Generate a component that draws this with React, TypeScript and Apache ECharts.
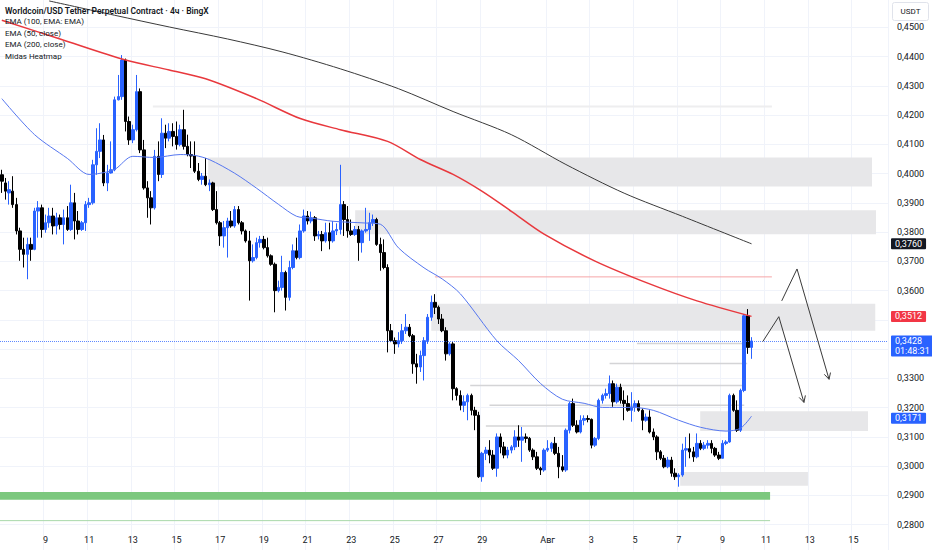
import { useEffect, useRef } from 'react';
import * as echarts from 'echarts';

// ---- 4h candles (Jul 7 00:00 -> Aug 10 08:00) ----
const OPEN = [
  0.3996, 0.3968, 0.3934, 0.3940, 0.3894, 0.3804, 0.3741, 0.3724, 0.3758, 0.3741,
  0.3872, 0.3883, 0.3809, 0.3832, 0.3855, 0.3821, 0.3849, 0.3826, 0.3849, 0.3809,
  0.3900, 0.3838, 0.3809, 0.3832, 0.3894, 0.3900, 0.4030, 0.4076, 0.4115, 0.3968,
  0.4002, 0.4013, 0.4252, 0.4263, 0.4388, 0.4178, 0.4115, 0.4150, 0.4280, 0.4081,
  0.3951, 0.3917, 0.3883, 0.4059, 0.3997, 0.4138, 0.4121, 0.4144, 0.4127, 0.4099,
  0.4150, 0.4093, 0.4065, 0.4060, 0.4008, 0.3980, 0.3991, 0.3962, 0.3968, 0.3877,
  0.3832, 0.3787, 0.3815, 0.3838, 0.3821, 0.3877, 0.3832, 0.3804, 0.3770, 0.3702,
  0.3713, 0.3764, 0.3775, 0.3747, 0.3719, 0.3690, 0.3600, 0.3611, 0.3662, 0.3577,
  0.3679, 0.3736, 0.3713, 0.3804, 0.3855, 0.3838, 0.3849, 0.3787, 0.3792, 0.3770,
  0.3798, 0.3770, 0.3804, 0.3809, 0.3894, 0.3843, 0.3804, 0.3792, 0.3809, 0.3764,
  0.3804, 0.3809, 0.3832, 0.3843, 0.3758, 0.3730, 0.3679, 0.3463, 0.3429, 0.3418,
  0.3429, 0.3463, 0.3475, 0.3446, 0.3350, 0.3339, 0.3378, 0.3429, 0.3509, 0.3560,
  0.3543, 0.3503, 0.3463, 0.3384, 0.3418, 0.3265, 0.3242, 0.3208, 0.3220, 0.3242,
  0.3191, 0.3174, 0.2964, 0.3044, 0.3055, 0.3038, 0.2993, 0.3100, 0.3066, 0.3038,
  0.3055, 0.3066, 0.3100, 0.3089, 0.3100, 0.3095, 0.3055, 0.3032, 0.2993, 0.2987,
  0.3055, 0.3061, 0.3078, 0.3044, 0.2998, 0.2987, 0.3123, 0.3214, 0.3140, 0.3117,
  0.3157, 0.3163, 0.3160, 0.3072, 0.3095, 0.3225, 0.3242, 0.3248, 0.3282, 0.3220,
  0.3270, 0.3225, 0.3214, 0.3191, 0.3203, 0.3214, 0.3191, 0.3157, 0.3168, 0.3117,
  0.3100, 0.3049, 0.3027, 0.2998, 0.3021, 0.2976, 0.2964, 0.2970, 0.3055, 0.3060,
  0.3049, 0.3032, 0.3078, 0.3061, 0.3072, 0.3078, 0.3061, 0.3038, 0.3027, 0.3078,
  0.3083, 0.3242, 0.3191, 0.3123, 0.3259, 0.3514, 0.3406,
];
const CLOSE = [
  0.3974, 0.3940, 0.3945, 0.3894, 0.3804, 0.3741, 0.3724, 0.3758, 0.3741, 0.3872,
  0.3883, 0.3809, 0.3832, 0.3855, 0.3821, 0.3849, 0.3826, 0.3849, 0.3809, 0.3900,
  0.3838, 0.3809, 0.3832, 0.3894, 0.3900, 0.4030, 0.4076, 0.4115, 0.3968, 0.4002,
  0.4013, 0.4252, 0.4263, 0.4388, 0.4178, 0.4115, 0.4150, 0.4280, 0.4081, 0.3951,
  0.3917, 0.3883, 0.4059, 0.3997, 0.4138, 0.4121, 0.4144, 0.4127, 0.4099, 0.4150,
  0.4093, 0.4065, 0.4060, 0.4008, 0.3980, 0.3991, 0.3962, 0.3968, 0.3877, 0.3832,
  0.3787, 0.3815, 0.3838, 0.3821, 0.3877, 0.3832, 0.3804, 0.3770, 0.3702, 0.3713,
  0.3764, 0.3775, 0.3747, 0.3719, 0.3690, 0.3600, 0.3611, 0.3662, 0.3577, 0.3679,
  0.3736, 0.3713, 0.3804, 0.3855, 0.3838, 0.3849, 0.3787, 0.3792, 0.3770, 0.3798,
  0.3770, 0.3804, 0.3809, 0.3894, 0.3843, 0.3804, 0.3792, 0.3809, 0.3764, 0.3804,
  0.3809, 0.3832, 0.3843, 0.3758, 0.3730, 0.3679, 0.3463, 0.3429, 0.3418, 0.3429,
  0.3463, 0.3475, 0.3446, 0.3350, 0.3339, 0.3378, 0.3429, 0.3509, 0.3560, 0.3543,
  0.3503, 0.3463, 0.3384, 0.3418, 0.3265, 0.3242, 0.3208, 0.3220, 0.3242, 0.3191,
  0.3174, 0.2964, 0.3044, 0.3055, 0.3038, 0.2993, 0.3100, 0.3066, 0.3038, 0.3055,
  0.3066, 0.3100, 0.3089, 0.3100, 0.3095, 0.3055, 0.3032, 0.2993, 0.2987, 0.3055,
  0.3061, 0.3078, 0.3044, 0.2998, 0.2987, 0.3123, 0.3214, 0.3140, 0.3117, 0.3157,
  0.3163, 0.3160, 0.3072, 0.3095, 0.3225, 0.3242, 0.3248, 0.3282, 0.3220, 0.3270,
  0.3225, 0.3214, 0.3191, 0.3203, 0.3214, 0.3191, 0.3157, 0.3168, 0.3117, 0.3100,
  0.3049, 0.3027, 0.2998, 0.3021, 0.2976, 0.2964, 0.2970, 0.3055, 0.3060, 0.3049,
  0.3032, 0.3078, 0.3061, 0.3072, 0.3078, 0.3061, 0.3038, 0.3027, 0.3078, 0.3083,
  0.3242, 0.3191, 0.3123, 0.3259, 0.3514, 0.3406, 0.3428,
];
const LOW = [
  0.3934, 0.3911, 0.3894, 0.3883, 0.3792, 0.3702, 0.3679, 0.3639, 0.3702, 0.3738,
  0.3781, 0.3781, 0.3798, 0.3815, 0.3792, 0.3792, 0.3809, 0.3758, 0.3804, 0.3804,
  0.3775, 0.3792, 0.3804, 0.3804, 0.3883, 0.3894, 0.3996, 0.4053, 0.3957, 0.3940,
  0.4000, 0.4008, 0.4250, 0.4252, 0.4144, 0.4098, 0.4104, 0.4144, 0.4070, 0.3945,
  0.3849, 0.3826, 0.3877, 0.3974, 0.3985, 0.4087, 0.4110, 0.4093, 0.4082, 0.4093,
  0.4082, 0.4059, 0.4019, 0.4002, 0.3974, 0.3962, 0.3957, 0.3940, 0.3872, 0.3826,
  0.3753, 0.3747, 0.3713, 0.3815, 0.3815, 0.3826, 0.3792, 0.3764, 0.3566, 0.3696,
  0.3707, 0.3747, 0.3741, 0.3713, 0.3685, 0.3526, 0.3594, 0.3600, 0.3532, 0.3566,
  0.3673, 0.3707, 0.3707, 0.3798, 0.3826, 0.3830, 0.3770, 0.3775, 0.3735, 0.3764,
  0.3741, 0.3764, 0.3790, 0.3792, 0.3787, 0.3781, 0.3787, 0.3787, 0.3702, 0.3730,
  0.3798, 0.3770, 0.3821, 0.3753, 0.3668, 0.3673, 0.3389, 0.3424, 0.3384, 0.3406,
  0.3418, 0.3452, 0.3441, 0.3316, 0.3282, 0.3322, 0.3293, 0.3418, 0.3497, 0.3520,
  0.3486, 0.3458, 0.3361, 0.3378, 0.3225, 0.3225, 0.3191, 0.3185, 0.3157, 0.3174,
  0.3123, 0.2960, 0.2947, 0.3021, 0.3010, 0.2987, 0.2964, 0.3044, 0.3027, 0.3027,
  0.3044, 0.3055, 0.3066, 0.3015, 0.3080, 0.3049, 0.3021, 0.2987, 0.2970, 0.2981,
  0.3049, 0.3049, 0.3038, 0.2959, 0.2981, 0.2981, 0.3112, 0.3134, 0.3112, 0.3112,
  0.3140, 0.3150, 0.3061, 0.3066, 0.3089, 0.3214, 0.3231, 0.3231, 0.3203, 0.3214,
  0.3214, 0.3157, 0.3186, 0.3152, 0.3186, 0.3186, 0.3123, 0.3152, 0.3112, 0.3089,
  0.3021, 0.3021, 0.2993, 0.2993, 0.2964, 0.2953, 0.2930, 0.2964, 0.2998, 0.3027,
  0.3015, 0.3027, 0.3055, 0.3055, 0.3060, 0.3044, 0.3032, 0.3021, 0.3027, 0.3072,
  0.3080, 0.3186, 0.3117, 0.3117, 0.3253, 0.3384, 0.3367,
];
const HIGH = [
  0.4013, 0.3985, 0.3974, 0.3991, 0.3917, 0.3815, 0.3781, 0.3781, 0.3781, 0.3883,
  0.3906, 0.3894, 0.3860, 0.3883, 0.3883, 0.3866, 0.3860, 0.3877, 0.3889, 0.3962,
  0.3934, 0.3872, 0.3838, 0.3906, 0.3917, 0.4047, 0.4155, 0.4172, 0.4132, 0.4030,
  0.4110, 0.4263, 0.4337, 0.4405, 0.4393, 0.4195, 0.4167, 0.4337, 0.4291, 0.4115,
  0.3974, 0.3940, 0.4081, 0.4110, 0.4189, 0.4167, 0.4172, 0.4172, 0.4178, 0.4167,
  0.4218, 0.4133, 0.4110, 0.4110, 0.4036, 0.4002, 0.4053, 0.3980, 0.3972, 0.3940,
  0.3838, 0.3838, 0.3849, 0.3872, 0.3889, 0.3889, 0.3838, 0.3809, 0.3804, 0.3758,
  0.3781, 0.3787, 0.3787, 0.3781, 0.3724, 0.3696, 0.3634, 0.3719, 0.3668, 0.3702,
  0.3758, 0.3781, 0.3826, 0.3877, 0.3872, 0.3870, 0.3855, 0.3804, 0.3804, 0.3832,
  0.3832, 0.3838, 0.3830, 0.4030, 0.3906, 0.3889, 0.3843, 0.3821, 0.3821, 0.3809,
  0.3883, 0.3866, 0.3860, 0.3849, 0.3781, 0.3775, 0.3690, 0.3486, 0.3440, 0.3458,
  0.3486, 0.3520, 0.3486, 0.3452, 0.3384, 0.3395, 0.3441, 0.3520, 0.3583, 0.3588,
  0.3549, 0.3520, 0.3475, 0.3424, 0.3424, 0.3270, 0.3259, 0.3242, 0.3248, 0.3248,
  0.3203, 0.3186, 0.3049, 0.3066, 0.3089, 0.3055, 0.3112, 0.3112, 0.3083, 0.3066,
  0.3072, 0.3123, 0.3140, 0.3134, 0.3112, 0.3100, 0.3061, 0.3049, 0.2998, 0.3061,
  0.3089, 0.3083, 0.3100, 0.3066, 0.3038, 0.3129, 0.3220, 0.3231, 0.3157, 0.3174,
  0.3174, 0.3174, 0.3163, 0.3100, 0.3231, 0.3248, 0.3265, 0.3310, 0.3293, 0.3282,
  0.3282, 0.3259, 0.3242, 0.3253, 0.3225, 0.3225, 0.3197, 0.3180, 0.3191, 0.3129,
  0.3106, 0.3055, 0.3038, 0.3032, 0.3032, 0.2993, 0.2976, 0.3077, 0.3100, 0.3112,
  0.3066, 0.3112, 0.3089, 0.3083, 0.3089, 0.3089, 0.3066, 0.3049, 0.3089, 0.3089,
  0.3248, 0.3248, 0.3225, 0.3265, 0.3520, 0.3537, 0.3441,
];

// ---- EMA lines (candle index, price) ----
const EMA50_X = [0, 9, 18, 24, 27, 31, 36, 42, 49, 53, 57, 64, 70, 76, 81, 85, 91, 100, 104, 109, 116, 121, 126, 136, 142, 148, 154, 160, 165, 173, 179, 186, 192, 199, 203, 206];
const EMA50_Y = [0.4256, 0.4133, 0.4052, 0.3997, 0.4001, 0.4014, 0.4059, 0.4055, 0.4065, 0.4062, 0.4048, 0.4001, 0.3950, 0.3895, 0.3854, 0.3848, 0.3837, 0.3831, 0.3827, 0.3746, 0.3678, 0.3640, 0.3589, 0.3429, 0.3361, 0.3283, 0.3229, 0.3215, 0.3201, 0.3201, 0.3191, 0.3157, 0.3133, 0.3120, 0.3130, 0.3171];
const EMA100_X = [0, 16, 34, 46, 56, 70, 82, 93, 106, 115, 124, 132, 140, 149, 163, 178, 191, 206];
const EMA100_Y = [0.4524, 0.4460, 0.4388, 0.4354, 0.4324, 0.4256, 0.4188, 0.4150, 0.4110, 0.4048, 0.3997, 0.3939, 0.3871, 0.3793, 0.3701, 0.3623, 0.3565, 0.3512];
const EMA200_X = [13, 31, 46, 62, 77, 93, 109, 124, 140, 155, 171, 187, 206];
const EMA200_Y = [0.4590, 0.4541, 0.4501, 0.4460, 0.4416, 0.4358, 0.4290, 0.4212, 0.4133, 0.4031, 0.3933, 0.3854, 0.3760];

// ---- Midas heatmap zones: [fromIndex, toIndex, topPrice, bottomPrice] ----
const ZONE_FROM = [56.7, 97.1, 118.0, 191.9, 186.4];
const ZONE_TO = [239.1, 240.2, 240.0, 238.0, 221.5];
const ZONE_TOP = [0.4055, 0.3875, 0.3555, 0.3188, 0.2980];
const ZONE_BOTTOM = [0.3956, 0.3793, 0.3463, 0.3120, 0.2933];

// heatmap level lines
const LEVEL_FROM = [41.5, 174.5, 167.0, 128.7, 134.0, 133.0];
const LEVEL_TO = [211.6, 204.8, 204.8, 203.7, 204.0, 156.0];
const LEVEL_PRICE = [0.4229, 0.3419, 0.3351, 0.3276, 0.3208, 0.3137];

// other horizontal levels
const GREEN_BAND = { from: -0.5, to: 211.1, top: 0.2912, bottom: 0.2885 };
const GREEN_LINE = { from: -0.5, to: 211.1, price: 0.2814 };
const RED_LINE = { from: 119.0, to: 211.6, price: 0.3647 };

// drawn arrows (index, price)
const ARROW_A_X = [209.1, 213.5, 220.4];
const ARROW_A_Y = [0.3426, 0.3511, 0.3218];
const ARROW_A_HEAD_X = [219.1, 220.4, 220.8];
const ARROW_A_HEAD_Y = [0.3235, 0.3218, 0.3242];
const ARROW_B_X = [214.3, 218.5, 227.3];
const ARROW_B_Y = [0.3565, 0.3674, 0.3297];
const ARROW_B_HEAD_X = [226.0, 227.3, 227.7];
const ARROW_B_HEAD_Y = [0.3314, 0.3297, 0.3320];

// axis labels
const X_TICK_INDEX = [12, 24, 36, 48, 60, 72, 84, 96, 108, 120, 132, 150, 162, 174, 186, 198, 210, 222, 234];
const X_TICK_TEXT = ['9', '11', '13', '15', '17', '19', '21', '23', '25', '27', '29', 'Авг', '3', '5', '7', '9', '11', '13', '15'];
const HIDDEN_Y_LABELS = ['0,3500', '0,3400'];

const LAST_PRICE = 0.3428;
const COUNTDOWN = '01:48:31';
const EMA100_LAST = 0.3512;
const EMA200_LAST = 0.3760;
const EMA50_LAST = 0.3171;

const LEGEND_LINES = [
  'Worldcoin/USD Tether Perpetual Contract · 4ч · BingX',
  'EMA (100, EMA: EMA)',
  'EMA (50, close)',
  'EMA (200, close)',
  'Midas Heatmap',
];

const SLOT_COUNT = 244;
const START_UTC = Date.UTC(2025, 6, 7, 0, 0);
const CATEGORIES = Array.from({ length: SLOT_COUNT }, (_, i) => {
  const d = new Date(START_UTC + i * 4 * 3600 * 1000);
  return `${d.getUTCDate()}.${d.getUTCMonth() + 1} ${String(d.getUTCHours()).padStart(2, '0')}:00`;
});

const fmt = (v: number) => v.toFixed(4).replace('.', ',');
const pairs = (xs: number[], ys: number[]) => xs.map((x, i) => [x, ys[i]]);

export default function App() {
  const ref = useRef<HTMLDivElement>(null);
  useEffect(() => {
    if (!ref.current) return;
    const chart = echarts.init(ref.current, null, { renderer: 'svg' });
    const FONT = 'Roboto, "Noto Sans", sans-serif';
    const candles = OPEN.map((o, i) => [o, CLOSE[i], LOW[i], HIGH[i]]);
    const tickSet = new Set(X_TICK_INDEX);

    const priceTag = (value: number, bg: string, text: string, dy: number) => ({
      yAxis: value,
      lineStyle: { color: 'rgba(0,0,0,0)', width: 0 },
      label: {
        show: true,
        position: 'end',
        distance: 3,
        offset: [0, dy],
        formatter: text,
        backgroundColor: bg,
        color: '#ffffff',
        fontSize: 9,
        lineHeight: 10,
        fontFamily: FONT,
        padding: [1, 4, 0, 4],
        borderRadius: 1,
      },
    });

    const hLine = (from: number, to: number, price: number, color: string, width: number, z: number) => ({
      type: 'line',
      xAxisIndex: 1,
      z,
      symbol: 'none',
      silent: true,
      data: [
        [from, price],
        [to, price],
      ],
      lineStyle: { color, width },
    });

    const option: any = {
      animation: false,
      backgroundColor: '#ffffff',
      textStyle: { fontFamily: FONT },
      grid: {
        left: 0,
        right: 44,
        top: -2,
        bottom: -4,
        containLabel: false,
        outerBoundsMode: 'none',
      },
      xAxis: [
        {
          type: 'category',
          data: CATEGORIES,
          boundaryGap: true,
          offset: -24,
          axisLine: { show: false },
          axisTick: { show: false },
          axisLabel: {
            interval: (idx: number) => tickSet.has(idx),
            formatter: (_v: string, idx: number) => {
              const k = X_TICK_INDEX.indexOf(idx);
              return k >= 0 ? X_TICK_TEXT[k] : '';
            },
            fontSize: 9,
            color: '#131722',
            margin: 5,
            fontFamily: FONT,
          },
          splitLine: {
            show: true,
            interval: (idx: number) => tickSet.has(idx),
            lineStyle: { color: '#f0f3fa', width: 1 },
          },
        },
        {
          type: 'value',
          min: -0.5,
          max: SLOT_COUNT - 0.5,
          show: false,
        },
      ],
      yAxis: {
        type: 'value',
        position: 'right',
        min: 0.27,
        max: 0.46,
        interval: 0.01,
        axisLine: { show: false },
        axisTick: { show: false },
        axisLabel: {
          formatter: (v: number) => (HIDDEN_Y_LABELS.includes(fmt(v)) ? '' : fmt(v)),
          fontSize: 9,
          lineHeight: 9,
          color: '#131722',
          margin: 9,
          showMinLabel: false,
          showMaxLabel: false,
          fontFamily: FONT,
        },
        splitLine: { show: true, lineStyle: { color: '#f0f3fa', width: 1 } },
      },
      series: [
        {
          name: 'heatmap',
          type: 'line',
          xAxisIndex: 1,
          z: 1,
          symbol: 'none',
          silent: true,
          data: [
            [GREEN_LINE.from, GREEN_LINE.price],
            [GREEN_LINE.to, GREEN_LINE.price],
          ],
          lineStyle: { color: '#a9d8aa', width: 1 },
          markArea: {
            silent: true,
            data: [
              ...ZONE_FROM.map((f, i) => [
                { xAxis: f, yAxis: ZONE_TOP[i], itemStyle: { color: '#e7e7e9' } },
                { xAxis: ZONE_TO[i], yAxis: ZONE_BOTTOM[i] },
              ]),
              [
                { xAxis: GREEN_BAND.from, yAxis: GREEN_BAND.top, itemStyle: { color: '#7cc87e' } },
                { xAxis: GREEN_BAND.to, yAxis: GREEN_BAND.bottom },
              ],
            ],
          },
        },
        ...LEVEL_FROM.map((f, i) =>
          hLine(f, LEVEL_TO[i], LEVEL_PRICE[i], i === 0 ? '#eeeeef' : '#d4d4d6', i === 0 ? 2 : 1.5, 1)
        ),
        hLine(RED_LINE.from, RED_LINE.to, RED_LINE.price, '#f6a5a7', 1, 1),
        {
          name: 'WLD',
          type: 'candlestick',
          xAxisIndex: 0,
          z: 3,
          barWidth: 3,
          data: candles,
          itemStyle: {
            color: '#2962ff',
            color0: '#000000',
            borderColor: '#2962ff',
            borderColor0: '#000000',
            borderWidth: 1,
          },
          markLine: {
            silent: true,
            precision: 4,
            symbol: ['none', 'none'],
            data: [
              {
                yAxis: LAST_PRICE,
                lineStyle: { color: 'rgba(41,98,255,0.75)', type: 'dotted', width: 1 },
                label: {
                  show: true,
                  position: 'end',
                  distance: 3,
                  offset: [0, 5],
                  formatter: `${fmt(LAST_PRICE)}\n${COUNTDOWN}`,
                  backgroundColor: '#2962ff',
                  color: '#ffffff',
                  fontSize: 9,
                  lineHeight: 10,
                  fontFamily: FONT,
                  padding: [1, 4, 0, 4],
                  borderRadius: 1,
                },
              },
              priceTag(EMA100_LAST, '#f23645', fmt(EMA100_LAST), 0),
              priceTag(EMA200_LAST, '#131722', fmt(EMA200_LAST), 0),
              priceTag(EMA50_LAST, '#2962ff', fmt(EMA50_LAST), 2),
            ],
          },
        },
        {
          name: 'EMA 50',
          type: 'line',
          xAxisIndex: 1,
          z: 4,
          symbol: 'none',
          smooth: 0.3,
          data: pairs(EMA50_X, EMA50_Y),
          lineStyle: { color: '#5677f0', width: 1 },
        },
        {
          name: 'EMA 100',
          type: 'line',
          xAxisIndex: 1,
          z: 4,
          symbol: 'none',
          smooth: 0.3,
          data: pairs(EMA100_X, EMA100_Y),
          lineStyle: { color: '#e8383d', width: 1.5 },
        },
        {
          name: 'EMA 200',
          type: 'line',
          xAxisIndex: 1,
          z: 4,
          symbol: 'none',
          smooth: 0.3,
          data: pairs(EMA200_X, EMA200_Y),
          lineStyle: { color: '#3a3a3a', width: 1 },
        },
        ...[
          pairs(ARROW_A_X, ARROW_A_Y),
          pairs(ARROW_A_HEAD_X, ARROW_A_HEAD_Y),
          pairs(ARROW_B_X, ARROW_B_Y),
          pairs(ARROW_B_HEAD_X, ARROW_B_HEAD_Y),
        ].map((d) => ({
          type: 'line',
          xAxisIndex: 1,
          z: 5,
          symbol: 'none',
          silent: true,
          data: d,
          lineStyle: { color: '#3a3a3a', width: 1 },
        })),
      ],
      graphic: [
        ...LEGEND_LINES.map((t, i) => ({
          type: 'text',
          left: 5,
          top: 6 + i * 11.5,
          z: 100,
          style: {
            text: t,
            fontSize: i === 0 ? 8.5 : 8,
            fontFamily: FONT,
            fontWeight: i === 0 ? 600 : 400,
            fill: '#131722',
          },
        })),
        {
          type: 'group',
          right: 3,
          top: 2,
          z: 100,
          children: [
            {
              type: 'rect',
              shape: { x: 0, y: 0, width: 36, height: 18, r: 2 },
              style: { fill: '#ffffff', stroke: '#e0e3eb', lineWidth: 1 },
            },
            {
              type: 'text',
              x: 18,
              y: 9,
              style: {
                text: 'USDT',
                fontSize: 8,
                fontFamily: FONT,
                fill: '#131722',
                textAlign: 'center',
                textVerticalAlign: 'middle',
              },
            },
          ],
        },
      ],
    };

    chart.setOption(option);
    return () => chart.dispose();
  }, []);

  return (
    <div
      ref={ref}
      style={{ position: 'fixed', left: 0, top: 0, width: 932, height: 550, background: '#ffffff' }}
    />
  );
}
